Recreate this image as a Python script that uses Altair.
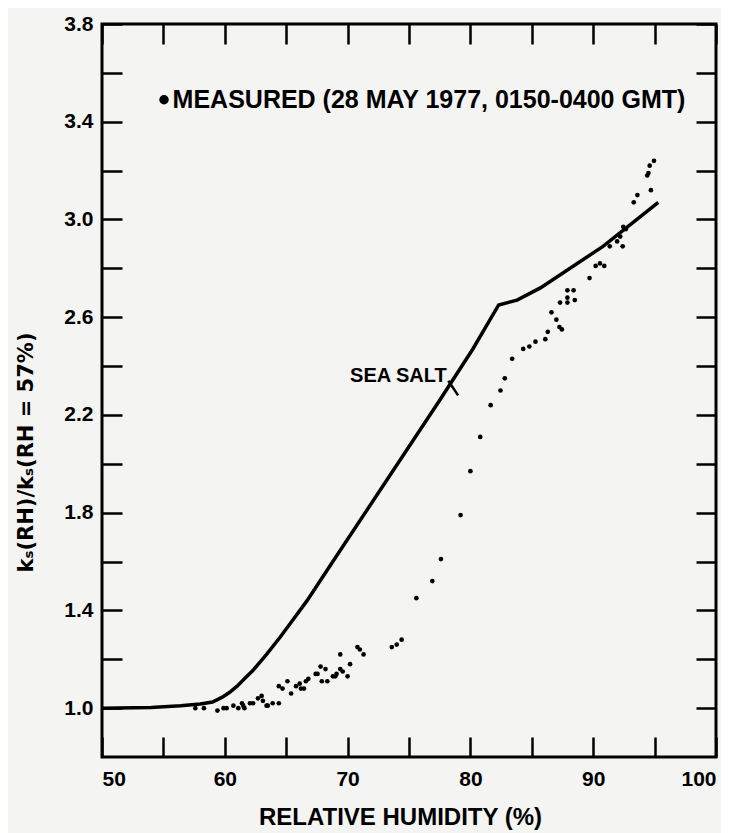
import altair as alt
import pandas as pd

# Measured points (relative humidity %, ks(RH)/ks(57%))
rh_meas = [57.6, 58.3, 59.4, 59.9, 60.15, 60.7, 61.1, 61.4, 61.5, 61.6, 62.05, 62.3,
           62.7, 63.0, 63.1, 63.4, 63.5, 63.9, 64.4, 64.4, 64.7, 65.1, 65.4, 65.8,
           66.1, 66.2, 66.45, 66.6, 66.8, 67.4, 67.55, 67.8, 67.9, 68.2, 68.35, 68.8,
           69.0, 69.1, 69.4, 69.4, 69.6, 70.0, 70.2, 70.8, 71.0, 71.3, 73.6, 74.0,
           74.4, 75.6, 76.9, 77.6, 79.2, 80.0, 80.8, 81.65, 82.45, 82.8, 83.4, 84.3,
           84.8, 85.3, 86.1, 86.3, 86.6, 87.0, 87.25, 87.45, 87.3, 87.9, 88.4, 87.9,
           87.9, 88.5, 89.7, 90.2, 90.55, 90.9, 91.35, 91.95, 92.2, 92.4, 92.45, 92.65,
           93.3, 93.6, 94.4, 94.5, 94.7, 94.6, 94.95]
k_meas = [1.00, 1.00, 0.99, 1.00, 1.00, 1.01, 1.00, 1.02, 1.01, 1.00, 1.02, 1.02,
          1.04, 1.05, 1.03, 1.01, 1.01, 1.02, 1.02, 1.09, 1.08, 1.11, 1.06, 1.09,
          1.10, 1.08, 1.08, 1.11, 1.12, 1.14, 1.14, 1.17, 1.11, 1.16, 1.11, 1.13,
          1.13, 1.14, 1.22, 1.16, 1.15, 1.13, 1.18, 1.25, 1.24, 1.22, 1.25, 1.26,
          1.28, 1.45, 1.52, 1.61, 1.79, 1.97, 2.11, 2.24, 2.30, 2.35, 2.43, 2.47,
          2.48, 2.50, 2.51, 2.54, 2.62, 2.59, 2.56, 2.55, 2.66, 2.71, 2.71, 2.68,
          2.66, 2.67, 2.76, 2.81, 2.82, 2.81, 2.89, 2.91, 2.93, 2.89, 2.97, 2.96,
          3.07, 3.10, 3.18, 3.19, 3.12, 3.22, 3.24]

# Sea salt growth curve
rh_salt = [50.0, 54.0, 56.4, 58.0, 59.0, 59.8, 60.4, 61.0, 61.6, 62.3, 63.4, 64.5, 65.6,
           66.7, 68.8, 77.5, 80.2, 82.3, 83.8, 85.7, 90.8, 95.3]
k_salt = [1.00, 1.003, 1.01, 1.017, 1.025, 1.045, 1.065, 1.09, 1.12, 1.155, 1.22, 1.29, 1.365,
          1.44, 1.60, 2.26, 2.47, 2.65, 2.67, 2.72, 2.89, 3.07]

x_ticks = [50, 55, 60, 65, 70, 75, 80, 85, 90, 95, 100]
y_ticks = [1.0, 1.2, 1.4, 1.6, 1.8, 2.0, 2.2, 2.4, 2.6, 2.8, 3.0, 3.2, 3.4, 3.6, 3.8]

legend_text = ["MEASURED (28 MAY 1977, 0150-0400 GMT)"]
legend_rh = [55.05]
legend_text_rh = [55.75]
legend_k = [3.49]

salt_label = ["SEA SALT"]
salt_label_rh = [70.2]
salt_label_k = [2.36]
salt_arrow_rh = [78.2, 79.0]
salt_arrow_k = [2.34, 2.28]

FONT = "Liberation Sans"

meas = pd.DataFrame({"rh": rh_meas, "k": k_meas})
salt = pd.DataFrame({"rh": rh_salt, "k": k_salt})
leg = pd.DataFrame({"rh": legend_rh, "rh2": legend_text_rh, "k": legend_k, "t": legend_text})
lab = pd.DataFrame({"rh": salt_label_rh, "k": salt_label_k, "t": salt_label})
arrow = pd.DataFrame({"rh": salt_arrow_rh, "k": salt_arrow_k})

xs = alt.Scale(domain=[50, 100], nice=False, zero=False)
ys = alt.Scale(domain=[0.8, 3.8], nice=False, zero=False)

common_axis = dict(tickSize=20, offset=-20, domain=False, grid=False,
                   tickColor="black", tickWidth=2.5,
                   labelFont=FONT, labelFontSize=21, labelFontWeight="bold",
                   labelColor="black", titleFontWeight="bold",
                   titleColor="black")

x_bottom = alt.Axis(values=x_ticks, orient="bottom",
                    labelExpr="datum.value % 10 == 0 ? datum.label : ''",
                    labelPadding=11, title="RELATIVE HUMIDITY (%)", titleFont=FONT,
                    titleFontSize=24, titlePadding=16, titleX=298, **common_axis)
y_left = alt.Axis(values=y_ticks, orient="left",
                  labelExpr="round(datum.value * 10) % 4 == 2 ? format(datum.value, '.1f') : ''",
                  labelPadding=9, title="kₛ(RH)/kₛ(RH  =  57%)", titleFont="DejaVu Sans",
                  titleFontSize=21, titleAngle=270, titleX=-96, titleY=428,
                  titleAlign="center", titleBaseline="middle", **common_axis)
x_top = alt.Axis(values=x_ticks, orient="top", labels=False, title=None, **common_axis)
y_right = alt.Axis(values=y_ticks, orient="right", labels=False, title=None, **common_axis)

line = alt.Chart(salt).mark_line(color="black", strokeWidth=3.5).encode(
    x=alt.X("rh:Q", scale=xs, axis=x_bottom),
    y=alt.Y("k:Q", scale=ys, axis=y_left),
)

pts = alt.Chart(meas).mark_circle(color="black", size=22, opacity=1).encode(
    x=alt.X("rh:Q", scale=xs, axis=x_top),
    y=alt.Y("k:Q", scale=ys, axis=y_right),
)

leg_dot = alt.Chart(leg).mark_circle(color="black", size=90, opacity=1).encode(
    x=alt.X("rh:Q", scale=xs, axis=None),
    y=alt.Y("k:Q", scale=ys, axis=None),
)
leg_txt = alt.Chart(leg).mark_text(font=FONT, fontSize=25, fontWeight="bold", color="black",
                                    align="left", baseline="middle").encode(
    x=alt.X("rh2:Q", scale=xs, axis=None),
    y=alt.Y("k:Q", scale=ys, axis=None),
    text="t:N",
)
salt_txt = alt.Chart(lab).mark_text(font=FONT, fontSize=20, fontWeight="bold", color="black",
                                     align="left", baseline="middle").encode(
    x=alt.X("rh:Q", scale=xs, axis=None),
    y=alt.Y("k:Q", scale=ys, axis=None),
    text="t:N",
)
salt_arrow = alt.Chart(arrow).mark_line(color="black", strokeWidth=2.5).encode(
    x=alt.X("rh:Q", scale=xs, axis=None),
    y=alt.Y("k:Q", scale=ys, axis=None),
)

chart = alt.layer(line, pts, leg_dot, leg_txt, salt_txt, salt_arrow).resolve_scale(
    x="independent", y="independent"
).properties(
    width=614, height=733,
    autosize=alt.AutoSizeParams(type="none"),
    padding={"left": 94, "top": 16, "right": 5, "bottom": 78},
    background="#f4f4f2",
).configure_view(stroke="black", strokeWidth=3)

chart.save("out.html", embed_options={"renderer": "svg", "actions": False})
